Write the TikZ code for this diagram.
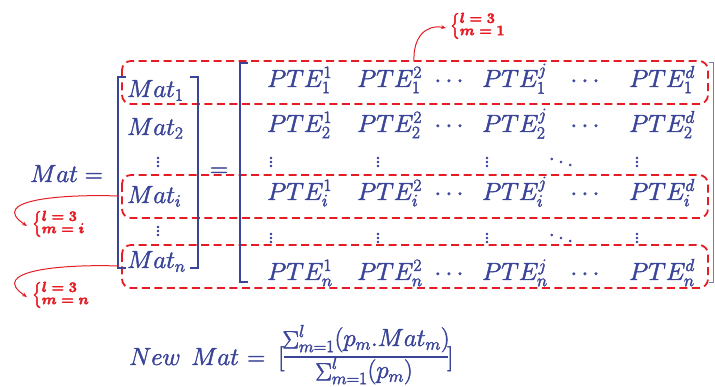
\documentclass[tikz,border=0pt]{standalone}
\usepackage{amsmath}
\usetikzlibrary{arrows.meta}
\definecolor{mblue}{RGB}{58,68,152}
\definecolor{mred}{RGB}{230,28,36}
\newcommand\heavytext{\special{pdf:literal direct 2 Tr 0.45 w}}
\newcommand\sumsym{\mathop{\Sigma}\nolimits}
\begin{document}
\begin{tikzpicture}[x=1pt,y=-1pt,
  txt/.style={text=mblue, font=\fontsize{26}{30}\selectfont\heavytext, inner sep=0pt, anchor=base west},
  frc/.style={text=mblue, font=\fontsize{23.5}{26}\selectfont\heavytext, inner sep=0pt, anchor=base},
  dts/.style={text=mblue, font=\fontsize{26}{30}\selectfont\heavytext, inner sep=0pt},
  brk/.style={draw=mblue, line width=2.6pt},
  rowbox/.style={draw=mred, line width=1.8pt, dash pattern=on 8pt off 4.5pt, rounded corners=9pt},
  ann/.style={text=mred, font=\fontsize{15}{17}\selectfont\heavytext, inner sep=0pt, anchor=west},
  arr/.style={draw=mred, line width=1pt, -{Stealth[length=5pt,width=4pt]}}
]
\useasboundingbox (0,0) rectangle (715,387);
% red row boxes
\draw[rowbox] (122,61) rectangle (708,104);
\draw[rowbox] (122,175) rectangle (708,218);
\draw[rowbox] (122,245) rectangle (708,288);
% left side
\node[txt] (mat) at (30,182) {$Mat=$};
\draw[brk] (126,77) -- (118,77) -- (118,268) -- (126,268);
\draw[brk] (190,77) -- (198,77) -- (198,268) -- (190,268);
\node[txt] (m1) at (127,97) {$Mat_1$};
\node[txt] (m2) at (127,135) {$Mat_2$};
\node[dts] (mv1) at (158,159) {$\vdots$};
\node[txt] (mi) at (127,203) {$Mat_i$};
\node[dts] (mv2) at (158,228) {$\vdots$};
\node[txt] (mn) at (127,268) {$Mat_n$};
\node[txt, anchor=center] (eq) at (219,172) {$=$};
% big matrix brackets
\draw[brk] (248,63) -- (240,63) -- (240,282) -- (248,282);
\draw[draw=mblue!70, line width=1pt] (709,63) -- (713,63) -- (713,283) -- (709,283);
% rows
\foreach \r/\y in {1/87,2/132,i/200,n/280}{
  \node[txt] (p\r a) at (267,\y) {$PTE_{\r}^{1}$};
  \node[txt] (p\r b) at (357,\y) {$PTE_{\r}^{2}$};
  \node[dts,anchor=base] (p\r c) at (451,\y) {$\cdots$};
  \node[txt] (p\r j) at (482,\y) {$PTE_{\r}^{j}$};
  \node[dts,anchor=base] (p\r e) at (587,\y) {$\cdots$};
  \node[txt] (p\r d) at (629,\y) {$PTE_{\r}^{d}$};
}
\foreach \y/\k in {159/u,235/v}{
  \node[dts] (va\k) at (271,\y) {$\vdots$};
  \node[dts] (vb\k) at (378,\y) {$\vdots$};
  \node[dts] (vj\k) at (487,\y) {$\vdots$};
  \node[dts] (dd\k) at (561,\y) {$\ddots$};
  \node[dts] (vd\k) at (637,\y) {$\vdots$};
}
% annotations
\def\arraystretch{0.9}
\node[ann] (a1) at (450,26) {$\left\{\begin{array}{@{}l@{}}\boldsymbol{l=3}\\[-3pt]\boldsymbol{m=1}\end{array}\right.$};
\node[ann] (a2) at (32,224) {$\left\{\begin{array}{@{}l@{}}\boldsymbol{l=3}\\[-3pt]\boldsymbol{m=i}\end{array}\right.$};
\node[ann] (a3) at (32,295) {$\left\{\begin{array}{@{}l@{}}\boldsymbol{l=3}\\[-3pt]\boldsymbol{m=n}\end{array}\right.$};
\coordinate (s1) at (414,61);
\coordinate (s2) at (119,196);
\coordinate (s3) at (119,266);
\draw[arr] (s1) .. controls (413,38) and (425,24) .. ([xshift=-4pt,yshift=-2pt]a1.west);
\draw[arr] (s2) .. controls (60,194) and (-12,200) .. ([xshift=-5pt,yshift=-2pt]a2.west);
\draw[arr] (s3) .. controls (60,264) and (-12,271) .. ([xshift=-5pt,yshift=-2pt]a3.west);
% bottom formula
\node[txt] (nw) at (129,365) {$New$};
\node[txt] (nmat) at (191,365) {$Mat$};
\node[txt] (neq) at (247,365) {$=$};
\node[txt] (ob) at (278,365) {$[$};
\node[frc] (num) at (366,346) {$\sumsym_{m=1}^{l}(p_m.Mat_m)$};
\node[frc] (den) at (364,378) {$\sumsym_{m=1}^{l}(p_m)$};
\coordinate (fl) at (284,357);
\coordinate (fr) at (448,357);
\draw[draw=mblue, line width=1.4pt] (fl) -- (fr);
\node[txt] (cb) at (447,365) {$]$};
\end{tikzpicture}
\end{document}
